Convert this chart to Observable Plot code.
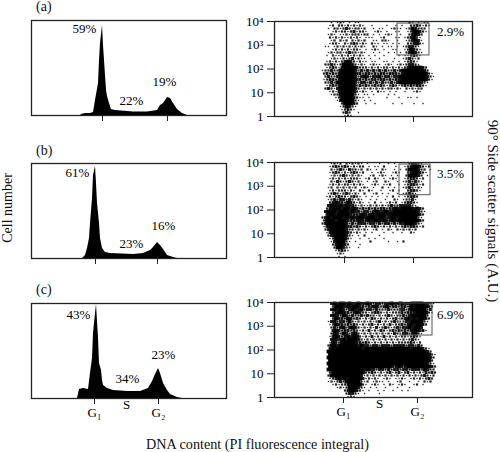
<!DOCTYPE html>
<html><head><meta charset="utf-8">
<script src="https://cdn.jsdelivr.net/npm/d3@7"></script>
<script src="https://cdn.jsdelivr.net/npm/@observablehq/plot@0.6"></script>
<style>
html,body{margin:0;padding:0;background:#fff}
#page{position:relative;width:500px;height:452px;overflow:hidden;background:#fff;font-family:"Liberation Serif",serif;color:#111}
#page svg{position:absolute;background:transparent}
.t{position:absolute;white-space:nowrap;line-height:1}
</style></head><body><div id="page"></div>
<script>
// ---- histogram data: DNA channel, cell count
const dnaA = [49,50,54,59,62,64,67,68,69,71,72,73,75,76,78,80,84,102,116,126,129,132,136,139,142,146,151,156];
const cntA = [0,1,2,2,3,15,32,55,72,90,70,55,25,19,12,6,5,3.5,3.5,5,10,12,18,17,12,6,2,0];
const dnaB = [51,54,56,58,59,61,62,64,65,66,68,69,71,74,79,102,112,119,122,126,129,132,136,142,146];
const cntB = [0,3,10,20,35,60,83,92,75,55,35,20,10,6,5,4,5,8,11,16,13,9,3,1,0];
const dnaC = [46,48,52,57,59,61,62,64,65,67,68,70,71,72,76,82,96,109,117,121,124,127,129,132,136,139,146,151];
const cntC = [0,9,10,9,25,40,65,85,94,60,35,28,18,13,10,8,7,7,10,17,24,30,25,15,8,4,1,0];

// ---- G1 / G2 tick channels per panel
const histTicks = [[71,136],[64,126],[63,127]];
const scatTicks = [[71,139],[70,139],[69,143]];
const phaseNames = ["G\u2081","G\u2082"];
const midName = "S";
const midChannels = [95, 105];

// ---- percent labels
const histPct = [["59%","22%","19%"],["61%","23%","16%"],["43%","34%","23%"]];
const histPctX = [[53,100,133],[46,100,132],[47,96,132]];
const histPctY = [[87,15,34],[86,15,33],[84,20,44]];
const gatePct = ["2.9%","3.5%","6.9%"];
const gatePctX = 176;
const gatePctY = [3800,3450,3100];

// ---- gates: channel range and signal range
const gateX = [[123,155],[125,156],[126,158]];
const gateY = [[372,8200],[420,8200],[407,9100]];

const yTickValues = [1,10,100,1000,10000];
const yTickLabels = ["1","10","10\u00b2","10\u00b3","10\u2074"];
const panelNames = ["(a)","(b)","(c)"];

// ---- scatter density (blank, . : o # = rising density)
const scatA = [
"     . .:. . ..                :. . ..    ",
"    .: ::.:.:.:.  .    .  . .  ::o:.:.    ",
"    . ::.:o:.::.:  . ..  .:.. .:#o:::     ",
"     .:.::.:o.::.  .:. .  ..  .:##o:.     ",
"    .:. ..:.:::.:: . . .:.  .  :o#o:      ",
"    :.:.:..:.:. ...  .:   .. .:o#:.       ",
"     .: :.: :.:.:  .. ::.  .  .:o#o.      ",
"    .::. :.:o:.:. :.. .. . .  ::o#:.      ",
"   .. .:.:.:.:.:.  :. . .. . .:oo:.       ",
"     .:.:.:.::. . .:. .  ..  .:#o:.       ",
"    .:.::.:o::.:.  . .  . . . :o#o:.      ",
"   . :..:.:.:.:. . .  .    . ..:o:.       ",
"     .:..:.:o.:.. .  .    .  .:o:.:       ",
"   .:.:.:o#o:.:.. ..  .. . . .:o:.        ",
"   ::o:.:###o:.:. .:.. .:. .:.:oo:.       ",
"   .:o:.o####o:::.:.:.::.:.:.:o####o:     ",
"  .::o::#####o:o:o:o:o:o::o:o#######o:    ",
"  :o:o:o#####oo:oo:o:oo:ooo:o########:.   ",
"   :o::o#####o:o#o:oo#:oo:oo#########o:.  ",
"  .:oo:o#####oo:o:oo:oo:o:oo#########:.   ",
"   ::o:######o:oo:o:o:o::o:o#######o:.    ",
"   .:o:o#####:o:o::o:o:.:o:.:o:o:oo:.     ",
"   :o:.o#####o:.:.:.:.:.::.:. :.:.::      ",
"    .:.o#####:.:. . :.. . .  .  .:.       ",
"     .::#####:. .. .    . .               ",
"      .:####o:.. .     .   .  .. .        ",
"       .o####:. . .                       ",
"        :###o:  .  .     .  .   .  .      ",
"        .:#o:.                            ",
"        .:o:.                             ",
"         :o:  .                           ",
"         .:.                              "];
const scatB = [
"     .:.: :.:.:. .   .  . .    :oo:.      ",
"    .:o::o:.:.:: . .. :   .  .:o##o:.:    ",
"     :.:o:.o::.: :. . :.  . . :###o:: .   ",
"    .:o:.:.:o:.:  . .:.  .:.  :o##o:.     ",
"     .:.:o:.:.:.  .: .:. . .  :###o: .    ",
"    .:.:.:.:::. .: :. . .:.  .:oo:.:      ",
"     :.o:.:o:.:. . .:  :.  . .:o:o:.      ",
"    .:.:.::.:.:.  .:. ..:  . .:oo:.:      ",
"    .: :.:.:.: .:. .  : . .  .:o:.:.      ",
"    .:.:::.:. :. :.  .  .: .  :oo:.       ",
"    .:o:.:o:.:. :  .: . .  . .:o:.        ",
"   .:.:o::.:o:. . . .  . : . .:oo:        ",
"    .:o:oo:o:.:.  . .  .  :. .::o.        ",
"    :o#oo:#o:.:. . : . .:.: .:oo:.        ",
"    o##o#o#oo:.:..:.:.:.:o::oooo:.        ",
"   :o###o##o#o:o:o:o:oo:oo#o####o#o:      ",
"   o###o###o#oo:oo:o#oo#oo########o:.     ",
"   o##o####oooo#oo#o###o##########o:      ",
"  :o#o###o#o#o##o###o##oo##o######:.      ",
"  :###o###oooo#oo#o##o#oo#o#######o:      ",
"  :o######o:o:ooo:oo:o:oo:o:oo###o:.      ",
"  .o######oo:o:.:.:o:.:.:.:.:o:oo:.:      ",
"   :o#####o::.:.:. .: . :. :.:.:.:        ",
"   .o#####o:.:. . .   .  .  .  :.         ",
"    :o####o:. . :    .                    ",
"    .:####:.  .  . .  .                   ",
"     .o###:. .    :     .  . :            ",
"     :o##o:   .                           ",
"      :##o:.  .                           ",
"      .:o:.                               ",
"       .:.                                ",
"       . .                                "];
const scatC = [
"     o#o##o#oo#oo#o:oo:oo#oo#ooo####oo:.  ",
"     :###o#o##oo:oo#o:o#:oo:oo:#o####o:   ",
"     o#o#o:o#oo#:oo:o:::o:::oo:o#####:o   ",
"     :o##oo:o#o::.:oo:.:.:::o:ooo####:.   ",
"     o#o:#o:o::o:o::.:.:o:.::o:o#####:    ",
"     :#oo:#o:o:.:.o:.:.:.:o.:o#o#o##o:    ",
"    .o#:oo:#:.:.:.:.:o.:.:o:.:oo####:.    ",
"    .:#oo:o:o:.:.:o.:.:.o.::o:o#o##o:     ",
"     :o:o#:o#o:.:.:.o.:o:.:o:oo#o##o      ",
"     o#o:oo:o:.:.o.:.o:.:o:o:o:o##oo.     ",
"     :#o:#o:o#:.:.:.:.:.:.o:.oo:o#:.      ",
"    .o#o:o#o##:.:.o.:.o.:.:.::.:o:.       ",
"     o#oo#o###o:.:.:.:.:.:.:.:.:o:.       ",
"    .#o:#####oo:o:.:.:.:.:.::::o:.:       ",
"    :##o######o#oo:oo:ooo:oooo:oo:o:      ",
"    o##########o###############o###o:.    ",
"    #################################o:   ",
"    ##################################:.  ",
"    ##################################o:  ",
"    ##################################:   ",
"    #################################o:.  ",
"    #####################oo#oo########o:  ",
"    ############o#oo:oo:o:oo:oo:ooo:#o::  ",
"    :###########::o:.:.:o.:o.:o.:.:.o:o:  ",
"    :##########o.:.:.:.:.:.:.:.:.:.:o:.:  ",
"    .:o#o#o####o.:.:. .:. ..:. .:.:.:o:   ",
"    .:.:o:#####:.: .:.. .  .:  .  . :.:   ",
"     .:.::o####:. .:. . :. .:.  .: .      ",
"       .:.:###o:. . .  .   .   .          ",
"         :o##o:. .  . .  .  . .           ",
"          :oo:. .    .                    ",
"          .:.                              "];
const scatOffsets = [41,41,41];

// ---- layout and drawing
const page = document.getElementById("page");
const FONT = '"Liberation Serif",serif';
const INK = "#222";
const histTops = [20,163,303];
const scatTops = [21,162,302];
const HIST_H = 95, SCAT_H = 95;
const levels = [[".",0.7,"#333"],[":",1.1,"#222"],["o",1.45,"#111"],["#",1.9,"#000"]];
const DECADE = 23.75;

function parseGrid(rows,offset){
  const half = Object.fromEntries(levels.map(l=>[l[0],l[1]]));
  const out=[];
  rows.forEach((row,r)=>[...row].forEach((ch,c)=>{
    if(ch===" ") return;
    const h=half[ch], x=offset+c*3+1.5+(r%2)*1.5, l=4-(r+.5)*3/DECADE;
    out.push({x1:x-h,x2:x+h,y1:Math.pow(10,l-h/DECADE),y2:Math.pow(10,l+h/DECADE),ch});
  }));
  return out;
}
function place(svg,left,top){svg.style.left=left+"px";svg.style.top=top+"px";page.appendChild(svg);}
function label(txt,left,top,size,extra){
  const d=document.createElement("div");d.className="t";d.textContent=txt;
  d.style.left=left+"px";d.style.top=top+"px";d.style.fontSize=size+"px";
  if(extra)d.style.cssText+=extra;page.appendChild(d);
}

function histogram(i,dna,cnt){
  const showNames = i===2;
  const table = dna.map((x,k)=>({x,y:cnt[k]}));
  const pct = histPct[i].map((t,k)=>({t,x:histPctX[i][k],y:histPctY[i][k]}));
  const svg = Plot.plot({
    width:240,height:HIST_H+10+40,marginLeft:31,marginRight:14,marginTop:10,marginBottom:40,
    style:{fontFamily:FONT,fontSize:"13px",background:"transparent",color:INK},
    x:{domain:[0,195],axis:null},
    y:{domain:[0,95],axis:null},
    marks:[
      Plot.areaY(table,{x:"x",y:"y",fill:"#000"}),
      Plot.frame({stroke:"#222",strokeWidth:1.3}),
      Plot.axisX(histTicks[i],{anchor:"bottom",tickSize:6,stroke:"#222",tickFormat:()=>"",label:null}),
      Plot.text(pct,{x:"x",y:"y",text:"t",fontSize:13,fill:"#000"}),
      showNames?Plot.text(histTicks[i],{x:d=>d,frameAnchor:"bottom",dy:18,text:(d,k)=>phaseNames[k],fontSize:13,fill:"#000"}):null,
      showNames?Plot.text([midName],{x:()=>midChannels[0],frameAnchor:"bottom",dy:10,text:d=>d,fontSize:13,fill:"#000"}):null
    ]
  });
  place(svg,0,histTops[i]-10);
}

function scatter(i,rows){
  const showNames = i===2;
  const pts = parseGrid(rows,scatOffsets[i]);
  const svg = Plot.plot({
    width:260,height:SCAT_H+10+40,marginLeft:34,marginRight:28,marginTop:10,marginBottom:40,
    style:{fontFamily:FONT,fontSize:"13px",background:"transparent",color:INK},
    x:{domain:[0,198],axis:null},
    y:{type:"log",domain:[1,10000],axis:null},
    marks:[
      ...levels.map(([ch,h,fill])=>Plot.rect(pts.filter(p=>p.ch===ch),{x1:"x1",x2:"x2",y1:"y1",y2:"y2",fill,imageFilter:"blur(0.35px)"})),
      Plot.rect([0],{x1:()=>gateX[i][0],x2:()=>gateX[i][1],y1:()=>gateY[i][0],y2:()=>gateY[i][1],fill:"none",stroke:"#555",strokeWidth:1}),
      Plot.frame({stroke:"#222",strokeWidth:1.3}),
      Plot.axisX(scatTicks[i],{anchor:"bottom",tickSize:6,stroke:"#222",tickFormat:()=>"",label:null}),
      Plot.axisY(yTickValues,{anchor:"left",tickSize:7,tickPadding:4,stroke:"#222",fill:"#000",label:null,
        tickFormat:v=>yTickLabels[yTickValues.indexOf(v)]}),
      Plot.text([gatePct[i]],{x:()=>gatePctX,y:()=>gatePctY[i],text:d=>d,fontSize:13,fill:"#000"}),
      showNames?Plot.text(scatTicks[i],{x:d=>d,frameAnchor:"bottom",dy:18,text:(d,k)=>phaseNames[k],fontSize:13,fill:"#000"}):null,
      showNames?Plot.text([midName],{x:()=>midChannels[1],frameAnchor:"bottom",dy:10,text:d=>d,fontSize:13,fill:"#000"}):null
    ]
  });
  place(svg,240,scatTops[i]-10);
}

[[dnaA,cntA],[dnaB,cntB],[dnaC,cntC]].forEach(([d,c],i)=>histogram(i,d,c));
[scatA,scatB,scatC].forEach((g,i)=>scatter(i,g));

label(panelNames[0],36,0,14);
label(panelNames[1],36,144,14);
label(panelNames[2],36,283,14);
label("DNA content (PI fluorescence integral)",146,437,14.2);
label("Cell number",8,208,14,"transform:translate(-50%,-50%) rotate(-90deg);");
label("90\u00b0 Side scatter signals (A.U.)",492,211,15,"transform:translate(-50%,-50%) rotate(90deg);");
</script></body></html>
